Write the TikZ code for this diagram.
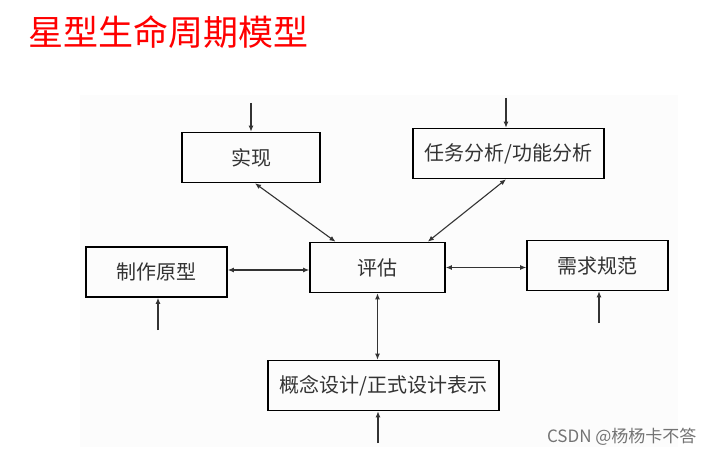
\documentclass[tikz,border=0pt]{standalone}
\usepackage{fontspec}
\newfontfamily\cjk{Noto Sans CJK SC}
\usetikzlibrary{arrows.meta}

\tikzset{
    box/.style={draw, line width=1.6pt, minimum height=50pt, inner sep=0pt, font=\cjk\fontsize{20}{20}\selectfont, text=black!80},
    link/.style={line width=1.1pt, draw=black!80, {Latex[length=6pt,width=5pt]}-{Latex[length=6pt,width=5pt]}},
    feed/.style={line width=1.1pt, draw=black!80, -{Latex[length=6pt,width=5pt]}}
}

\begin{document}
\begin{tikzpicture}[x=1pt,y=-1pt]
        \useasboundingbox (0,0) rectangle (714,457);
        \fill[white] (0,0) rectangle (714,457);
        \fill[black!1] (80,95) rectangle (678,447);

        \node[anchor=west, text=red, font=\cjk\fontsize{35}{35}\selectfont] (title) at (25,32) {星型生命周期模型};

        \node[box, minimum width=138pt] (shixian) at (251,157.5) {实现};
        \node[box, minimum width=191pt] (renwu) at (508.5,153.5) {任务分析/功能分析};
        \node[box, minimum width=141pt] (yuanxing) at (156.5,272) {制作原型};
        \node[box, minimum width=135pt] (pinggu) at (377.5,267.5) {评估};
        \node[box, minimum width=141pt] (xuqiu) at (597.5,265.5) {需求规范};
        \node[box, minimum width=231pt] (sheji) at (383.5,385.5) {概念设计/正式设计表示};

        % free ends of the incoming arrows
        \coordinate (shixianin) at (251,103);
        \coordinate (renwuin) at (506,98);
        \coordinate (yuanxingin) at (158,330);
        \coordinate (xuqiuin) at (599,323);
        \coordinate (shejiin) at (378,443);

        \draw[feed] (shixianin) -- (shixian.north);
        \draw[feed] (renwuin) -- ([xshift=-2.5pt]renwu.north);
        \draw[feed] (yuanxingin) -- (yuanxingin |- yuanxing.south);
        \draw[feed] (xuqiuin) -- (xuqiuin |- xuqiu.south);
        \draw[feed] (shejiin) -- (shejiin |- sheji.south);

        \draw[link] ([xshift=4pt]shixian.south) -- ([xshift=-42pt]pinggu.north);
        \draw[link] ([xshift=-2.5pt]renwu.south) -- ([xshift=-18pt]pinggu.north east);
        \draw[link] ([yshift=2pt]yuanxing.east) -- ([yshift=2pt]yuanxing.east -| pinggu.west);
        \draw[link] (pinggu.east) -- (pinggu.east -| xuqiu.west);
        \draw[link] (pinggu.south) -- (pinggu.south |- sheji.north);

        \node[anchor=east, text=black!55, font=\cjk\fontsize{17}{17}\selectfont] (mark) at (700,437) {CSDN @杨杨卡不答};
\end{tikzpicture}
\end{document}
